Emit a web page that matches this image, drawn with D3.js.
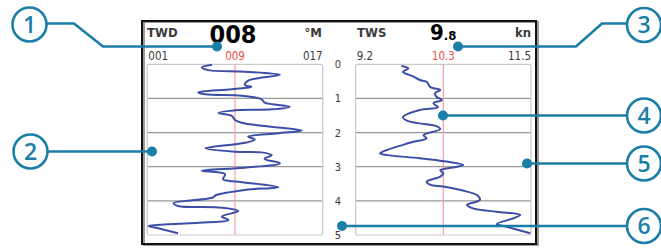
<!DOCTYPE html>
<html>
<head>
  <meta charset="utf-8">
  <script src="https://d3js.org/d3.v7.min.js"></script>
  <style>
    body { margin: 0; background: #fff; }
    svg { display: block; }
    .lbl { font-family: "Liberation Sans Narrow", "DejaVu Sans Condensed", "Roboto", sans-serif; fill: #3a3a3a; }
    .box { fill: none; stroke: #c9c9c9; stroke-width: 1.2; }
    .grid { stroke: #999; stroke-width: 1.2; }
    .ref { stroke: #f3a0a0; stroke-width: 1.2; }
    .trace { fill: none; stroke: #3d4ea6; stroke-width: 2; stroke-linejoin: round; }
    .call { fill: none; stroke: #1b7ea6; stroke-width: 2.6; }
  </style>
</head>
<body>
<div id="chart"></div>
<script>

// time axis (minutes back), shared by both panes
var timeTicks = [0, 1, 2, 3, 4, 5];

// true wind direction trace
var twdTime = [0.01, 0.09, 0.17, 0.22, 0.31, 0.41, 0.48, 0.61, 0.66, 0.73, 0.82, 0.88, 0.92, 1.02, 1.12, 1.24,
  1.32, 1.34, 1.43, 1.51, 1.63, 1.71, 1.81, 1.94, 2.02, 2.12, 2.20, 2.30, 2.46, 2.56, 2.58, 2.66, 2.77, 2.90,
  3.03, 3.12, 3.22, 3.37, 3.44, 3.60, 3.68, 3.83, 3.91, 4.07, 4.15, 4.20, 4.30, 4.46, 4.56, 4.67, 4.73, 4.80, 4.95];
var twdDir = [6.9, 5.96, 6.57, 9.9, 13.1, 11.1, 10.2, 9.9, 10.5, 8.7, 5.65, 6.3, 9.6, 11.4, 11.7, 14.0,
  12.35, 9.3, 7.5, 8.7, 9.0, 9.6, 11.7, 15.1, 12.95, 10.2, 10.8, 9.9, 6.3, 9.0, 11.4, 12.35, 11.7, 13.1,
  9.9, 5.96, 8.1, 7.9, 9.3, 12.95, 9.9, 7.3, 6.9, 3.4, 3.8, 7.8, 9.3, 7.8, 8.4, 3.8, 1.1, 2.0, 3.8];

// true wind speed trace
var twsTime = [0.05, 0.12, 0.22, 0.36, 0.46, 0.51, 0.67, 0.75, 0.85, 0.95, 1.05, 1.14, 1.26, 1.34, 1.55, 1.65,
  1.73, 1.81, 1.90, 2.07, 2.17, 2.27, 2.36, 2.51, 2.61, 2.66, 2.75, 2.85, 2.95, 3.02, 3.10, 3.19, 3.29, 3.44,
  3.53, 3.58, 3.73, 3.83, 3.97, 4.12, 4.22, 4.32, 4.41, 4.51, 4.68, 4.76, 4.95];
var twsSpeed = [9.80, 9.89, 9.82, 9.96, 10.04, 10.13, 10.18, 10.31, 10.24, 10.26, 10.33, 10.22, 10.28, 10.04, 9.82, 9.87,
  10.04, 10.26, 10.31, 10.09, 10.13, 9.96, 9.82, 9.61, 9.52, 9.61, 10.04, 10.39, 10.61, 10.48, 10.31, 10.35, 10.31, 10.13,
  10.18, 10.35, 10.66, 10.79, 10.83, 10.66, 10.74, 11.05, 11.36, 11.27, 11.05, 11.18, 11.49];

// pane headers
var twdRange = [1, 17], twdMean = 9, twdLabels = ["001", "009", "017"];
var twsRange = [9.2, 11.5], twsMean = 10.35, twsLabels = ["9.2", "10.3", "11.5"];

// numbered callouts
var calloutNums = ["1", "2", "3", "4", "5", "6"];

var width = 661, height = 248;
var svg = d3.select("#chart").append("svg")
  .attr("width", width)
  .attr("height", height);

var y = d3.scaleLinear().domain([0, 5]).range([64.3, 235]);
var xDir = d3.scaleLinear().domain(twdRange).range([147.3, 322.7]);
var xSpd = d3.scaleLinear().domain(twsRange).range([355.7, 531]);

// outer display frame
svg.append("rect")
  .attr("x", 144).attr("y", 22).attr("width", 394).attr("height", 223)
  .attr("fill", "none").attr("stroke", "#9a9a9a").attr("stroke-width", 2);
svg.append("rect")
  .attr("x", 142).attr("y", 21).attr("width", 394).attr("height", 223)
  .attr("fill", "none").attr("stroke", "#111").attr("stroke-width", 2);

function pane(x, tTime, tVal, mean, labels, curve) {
  var x0 = x.range()[0], x1 = x.range()[1];
  var g = svg.append("g");

  g.selectAll(".grid")
    .data(timeTicks.slice(1, -1))
    .enter().append("line")
      .attr("class", "grid")
      .attr("x1", x0).attr("x2", x1)
      .attr("y1", function(d) { return y(d); })
      .attr("y2", function(d) { return y(d); });

  g.append("rect")
    .attr("class", "box")
    .attr("x", x0).attr("y", y(0))
    .attr("width", x1 - x0).attr("height", y(5) - y(0))
    .attr("rx", 2);

  g.append("line")
    .attr("class", "ref")
    .attr("x1", x(mean)).attr("x2", x(mean))
    .attr("y1", y(0)).attr("y2", y(5));

  var line = d3.line()
    .x(function(d) { return x(d[1]); })
    .y(function(d) { return y(d[0]); })
    .curve(curve);

  g.append("path")
    .attr("class", "trace")
    .attr("d", line(d3.zip(tTime, tVal)));

  // scale labels under the header
  var anchors = ["start", "middle", "end"];
  var xs = [x0 + 1, x(mean), x1];
  g.selectAll(".scl")
    .data(labels)
    .enter().append("text")
      .attr("class", "lbl")
      .attr("x", function(d, i) { return xs[i]; })
      .attr("y", 60)
      .attr("text-anchor", function(d, i) { return anchors[i]; })
      .style("font-size", "11.5px")
      .style("fill", function(d, i) { return i == 1 ? "#f04848" : "#3a3a3a"; })
      .text(function(d) { return d; });
  return g;
}

pane(xDir, twdTime, twdDir, twdMean, twdLabels, d3.curveCatmullRom.alpha(0.5));
pane(xSpd, twsTime, twsSpeed, twsMean, twsLabels, d3.curveCatmullRom.alpha(0.5));

// headers
svg.append("text").attr("class", "lbl").attr("x", 147).attr("y", 37)
  .style("font-size", "13px").style("font-weight", "bold").text("TWD");
svg.append("text").attr("class", "lbl").attr("x", 233).attr("y", 43)
  .attr("text-anchor", "middle")
  .style("font-size", "25px").style("font-weight", "bold").style("fill", "#000").text("008");
svg.append("text").attr("class", "lbl").attr("x", 322).attr("y", 37)
  .attr("text-anchor", "end")
  .style("font-size", "13px").style("font-weight", "bold").text("°M");

svg.append("text").attr("class", "lbl").attr("x", 357).attr("y", 37)
  .style("font-size", "13px").style("font-weight", "bold").text("TWS");
var big = svg.append("text").attr("class", "lbl").attr("x", 430).attr("y", 40)
  .style("font-weight", "bold").style("fill", "#000");
big.append("tspan").style("font-size", "22px").text("9");
big.append("tspan").style("font-size", "13px").text(".8");
svg.append("text").attr("class", "lbl").attr("x", 531).attr("y", 37)
  .attr("text-anchor", "end")
  .style("font-size", "13px").style("font-weight", "bold").text("kn");

// time labels between the panes
svg.selectAll(".tl")
  .data(timeTicks)
  .enter().append("text")
    .attr("class", "lbl")
    .attr("x", 338)
    .attr("y", function(d) { return y(d) + 4; })
    .attr("text-anchor", "middle")
    .style("font-size", "11px")
    .text(function(d) { return d; });

// callouts: circle centre, leader path, end dot
var callouts = [
  {c: [29.5, 24.5], path: [[47, 23.5], [74, 23.5], [103, 46.5], [217, 46.5]]},
  {c: [30.5, 151.5], path: [[48, 151.5], [152, 151.5]]},
  {c: [644, 25], path: [[627, 23.5], [602, 23.5], [576, 46.5], [458, 46.5]]},
  {c: [644, 115.5], path: [[627, 115.5], [443, 115.5]]},
  {c: [644, 163.5], path: [[627, 163.5], [527, 163.5]]},
  {c: [644, 226], path: [[627, 226], [342, 226]]}
];

var cg = svg.append("g");
callouts.forEach(function(d, i) {
  cg.append("path").attr("class", "call").attr("d", d3.line()(d.path));
  var end = d.path[d.path.length - 1];
  cg.append("circle").attr("cx", end[0]).attr("cy", end[1]).attr("r", 5).attr("fill", "#1b7ea6");
  cg.append("circle").attr("class", "call").attr("cx", d.c[0]).attr("cy", d.c[1]).attr("r", 17)
    .attr("fill", "#fff");
  cg.append("text")
    .attr("x", d.c[0]).attr("y", d.c[1] + 8)
    .attr("text-anchor", "middle")
    .style("font-family", "'Open Sans', 'Noto Sans', sans-serif")
    .style("font-size", "23px")
    .style("font-weight", "600")
    .style("fill", "#1b7ea6")
    .text(calloutNums[i]);
});

</script>
</body>
</html>
